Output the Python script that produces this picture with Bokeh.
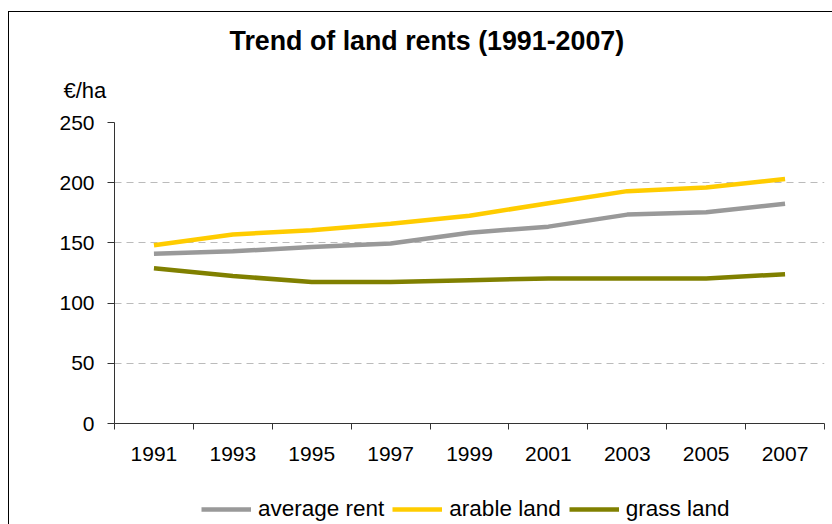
from bokeh.plotting import figure
from bokeh.layouts import column
from bokeh.models import FixedTicker, Legend, LegendItem, Range1d, Title
from bokeh.embed import file_html
from bokeh.resources import INLINE

years = ["1991", "1993", "1995", "1997", "1999", "2001", "2003", "2005", "2007"]
average_rent = [141, 143, 146.5, 149.5, 158.5, 163.5, 173.5, 175.5, 182.5]
arable_land = [148, 157, 160.5, 166, 172.5, 183, 193, 196, 203]
grass_land = [129, 122.5, 117.5, 117.5, 119, 120.5, 120.5, 120.5, 124]
y_ticks = [0, 50, 100, 150, 200, 250]

series = [("average rent", average_rent, "#999999"),
          ("arable land", arable_land, "#FFCC00"),
          ("grass land", grass_land, "#808000")]

FONT = "Liberation Sans"
xs = [i + 0.5 for i in range(len(years))]

p = figure(width=824, height=460, output_backend="svg", toolbar_location=None,
           x_range=Range1d(0, len(years)), y_range=Range1d(0, 250),
           min_border_left=105, min_border_top=110, min_border_right=9,
           min_border_bottom=49)
p.outline_line_color = None
p.background_fill_color = "white"
p.border_fill_color = "white"

# x axis: labels at category centres, ticks at category boundaries
p.xaxis.ticker = FixedTicker(ticks=xs, minor_ticks=list(range(len(years) + 1)))
p.xaxis.major_label_overrides = {x: y for x, y in zip(xs, years)}
p.xaxis.major_tick_out = 0
p.xaxis.major_tick_in = 0
p.xaxis.minor_tick_out = 6
p.xaxis.minor_tick_in = 0
p.xaxis.minor_tick_line_color = "#333333"
p.xaxis.major_label_standoff = 17
p.xaxis.axis_line_color = "#333333"

p.yaxis.ticker = FixedTicker(ticks=y_ticks, minor_ticks=[])
p.yaxis.major_tick_out = 7
p.yaxis.major_tick_in = 0
p.yaxis.major_tick_line_color = "#333333"
p.yaxis.major_label_standoff = 13
p.yaxis.axis_line_color = "#333333"

for ax in (p.xaxis, p.yaxis):
    ax.major_label_text_font = FONT
    ax.major_label_text_font_size = "21px"
    ax.major_label_text_color = "black"

p.xgrid.visible = False
p.ygrid.ticker = FixedTicker(ticks=[50, 100, 150, 200])
p.ygrid.grid_line_color = "#BBBBBB"
p.ygrid.grid_line_dash = "7 5"
p.ygrid.grid_line_width = 1

for name, vals, color in series:
    p.line(xs, vals, line_color=color, line_width=4.5)

unit = Title(text="€/ha", text_font=FONT, text_font_size="22px",
             text_font_style="normal", text_color="black",
             align="left", offset=-51, standoff=39)
title = Title(text="Trend of land rents (1991-2007)", text_font=FONT,
              text_font_size="26.8px", text_font_style="bold",
              text_color="black", align="left", offset=115, standoff=2)
p.add_layout(unit, "above")
p.add_layout(title, "above")

# legend strip below the chart
p2 = figure(width=824, height=53, output_backend="svg", toolbar_location=None,
            x_range=Range1d(0, len(years)), y_range=Range1d(0, 250),
            x_axis_location=None, y_axis_location=None,
            min_border_left=105, min_border_top=0, min_border_right=9,
            min_border_bottom=0)
p2.outline_line_color = None
p2.grid.visible = False
p2.background_fill_color = "white"
p2.border_fill_color = "white"
items = []
for name, vals, color in series:
    r = p2.line(xs, vals, line_color=color, line_width=4.5, visible=False)
    items.append(LegendItem(label=name, renderers=[r]))

legend = Legend(items=items, orientation="horizontal", location=(87, 3),
                glyph_width=50, glyph_height=20, label_height=20,
                label_standoff=7, spacing=8, padding=0, margin=0,
                border_line_alpha=0, background_fill_alpha=0,
                label_text_font=FONT, label_text_font_size="22.5px",
                label_text_color="black")
p2.add_layout(legend, "center")

layout = column(p, p2, spacing=0)
layout.margin = (11, 0, 0, 8)
layout.styles = {"border-left": "1px solid #000000", "border-top": "1px solid #000000"}

open("out.html", "w").write(file_html(layout, INLINE))
